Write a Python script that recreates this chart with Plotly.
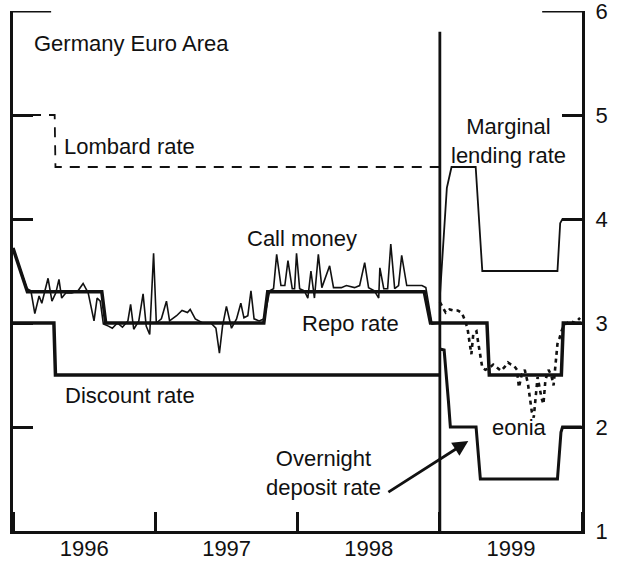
import plotly.graph_objects as go

# ---- Germany 1996-1998 ----
discount_dates = ["1996-01-01", "1996-04-15", "1996-04-19", "1998-12-31"]
discount_rate = [3.0, 3.0, 2.5, 2.5]

lombard_dates = ["1996-01-01", "1996-04-17", "1996-04-19", "1998-12-31"]
lombard_rate = [5.0, 5.0, 4.5, 4.5]

repo_de_dates = ["1996-01-01", "1996-02-07", "1996-08-16", "1996-08-26",
                 "1997-10-06", "1997-10-16", "1997-11-24", "1998-11-22",
                 "1998-12-08", "1998-12-31"]
repo_de_rate = [3.72, 3.30, 3.30, 3.00, 3.00, 3.30, 3.30, 3.30, 3.00, 3.00]

call_dates = [
    "1996-01-01", "1996-02-06", "1996-02-16", "1996-02-26", "1996-03-08",
    "1996-03-15", "1996-03-31", "1996-04-10", "1996-04-20", "1996-04-28",
    "1996-05-05", "1996-05-16", "1996-05-31", "1996-06-16", "1996-06-29",
    "1996-07-12", "1996-07-27", "1996-08-04", "1996-08-12", "1996-08-20",
    "1996-09-02", "1996-09-12", "1996-09-25", "1996-10-08", "1996-10-22",
    "1996-10-29", "1996-11-06", "1996-11-19", "1996-11-30", "1996-12-08",
    "1996-12-17", "1996-12-27", "1997-01-03", "1997-01-16", "1997-01-29",
    "1997-02-06", "1997-02-24", "1997-03-10", "1997-03-24", "1997-03-31",
    "1997-04-13", "1997-05-02", "1997-05-23", "1997-06-05", "1997-06-14",
    "1997-06-22", "1997-07-02", "1997-07-15", "1997-07-28", "1997-08-08",
    "1997-08-16", "1997-08-26", "1997-09-03", "1997-09-11", "1997-09-24",
    "1997-10-07", "1997-10-21", "1997-10-31", "1997-11-08", "1997-11-19",
    "1997-11-29", "1997-12-07", "1997-12-18", "1997-12-24", "1997-12-29",
    "1998-01-06", "1998-01-18", "1998-01-27", "1998-02-04", "1998-02-13",
    "1998-02-23", "1998-03-04", "1998-03-24", "1998-04-03", "1998-04-23",
    "1998-05-06", "1998-05-27", "1998-06-09", "1998-06-22", "1998-07-02",
    "1998-07-17", "1998-07-28", "1998-07-31", "1998-08-10", "1998-08-20",
    "1998-08-28", "1998-09-07", "1998-09-17", "1998-09-25", "1998-10-08",
    "1998-10-26", "1998-11-16", "1998-11-26", "1998-12-04", "1998-12-12",
    "1998-12-31"]
call_money = [
    3.72, 3.33, 3.31, 3.09, 3.26,
    3.19, 3.43, 3.21, 3.29, 3.42,
    3.24, 3.29, 3.29, 3.31, 3.38,
    3.29, 3.02, 3.24, 3.21, 2.99,
    2.97, 2.95, 3.00, 2.96, 3.02,
    3.18, 2.94, 3.02, 3.28, 2.97,
    2.89, 3.67, 3.00, 3.04, 3.21,
    3.02, 3.07, 3.12, 3.10, 3.13,
    3.04, 3.00, 3.00, 2.95, 2.71,
    2.97, 3.16, 2.95, 3.04, 3.19,
    3.05, 3.07, 3.31, 3.04, 3.02,
    3.04, 3.31, 3.33, 3.66, 3.36,
    3.36, 3.60, 3.33, 3.33, 3.67,
    3.33, 3.31, 3.24, 3.50, 3.24,
    3.66, 3.34, 3.55, 3.34, 3.34,
    3.36, 3.34, 3.36, 3.58, 3.34,
    3.31, 3.24, 3.53, 3.33, 3.33,
    3.76, 3.33, 3.36, 3.65, 3.36,
    3.36, 3.36, 3.34, 3.16, 2.99,
    3.00]

# ---- Euro area 1999 ----
repo_ea_dates = ["1999-01-01", "1999-05-02", "1999-05-08", "1999-11-09",
                 "1999-11-14", "1999-12-31"]
repo_ea_rate = [3.0, 3.0, 2.5, 2.5, 3.0, 3.0]

mlr_dates = ["1999-01-01", "1999-01-19", "1999-01-31", "1999-04-03",
             "1999-04-20", "1999-10-30", "1999-11-06", "1999-11-12",
             "1999-12-31"]
mlr_rate = [3.25, 4.30, 4.50, 4.50, 3.50, 3.50, 3.96, 4.00, 4.00]

odr_dates = ["1999-01-01", "1999-01-12", "1999-01-23", "1999-01-28",
             "1999-04-04", "1999-04-15", "1999-10-30", "1999-11-08",
             "1999-11-12", "1999-12-31"]
odr_rate = [2.75, 2.74, 2.25, 2.00, 2.00, 1.50, 1.50, 1.95, 2.00, 2.00]

eonia_dates = [
    "1999-01-01", "1999-01-09", "1999-01-16", "1999-01-26", "1999-02-05",
    "1999-02-16", "1999-02-26", "1999-03-05", "1999-03-13", "1999-03-18",
    "1999-03-23", "1999-03-28", "1999-04-05", "1999-04-10", "1999-04-15",
    "1999-04-20", "1999-04-28", "1999-05-08", "1999-05-18", "1999-05-28",
    "1999-06-07", "1999-06-17", "1999-06-25", "1999-07-03", "1999-07-10",
    "1999-07-18", "1999-07-23", "1999-07-30", "1999-08-07", "1999-08-15",
    "1999-08-20", "1999-08-25", "1999-08-30", "1999-09-04", "1999-09-09",
    "1999-09-14", "1999-09-19", "1999-09-24", "1999-09-29", "1999-10-07",
    "1999-10-14", "1999-10-20", "1999-10-25", "1999-10-30", "1999-11-04",
    "1999-11-09", "1999-11-16", "1999-12-02", "1999-12-14", "1999-12-27"]
eonia = [
    3.20, 3.14, 3.10, 3.13, 3.12,
    3.12, 3.10, 3.04, 2.95, 2.82,
    2.70, 2.90, 2.92, 2.80, 2.68,
    2.57, 2.55, 2.57, 2.60, 2.57,
    2.54, 2.58, 2.62, 2.60, 2.59,
    2.55, 2.38, 2.50, 2.55, 2.42,
    2.28, 2.15, 2.09, 2.30, 2.48,
    2.38, 2.28, 2.22, 2.45, 2.55,
    2.50, 2.40, 2.62, 2.80, 2.85,
    2.92, 2.98, 3.02, 3.00, 3.05]

rate_ticks = [1, 2, 3, 4, 5, 6]

FONT = "Liberation Sans, Arial, sans-serif"
BLACK = "#111111"
SIZE = 22

fig = go.Figure()


def add_line(x, y, width, dash="solid"):
    fig.add_trace(go.Scatter(x=x, y=y, mode="lines",
                             line=dict(color=BLACK, width=width, dash=dash),
                             showlegend=False, hoverinfo="skip"))


add_line(lombard_dates, lombard_rate, 1.8, "10px,8px")
add_line(discount_dates, discount_rate, 3.5)
add_line(call_dates, call_money, 1.6)
add_line(repo_de_dates, repo_de_rate, 3.5)
add_line(eonia_dates, eonia, 2.6, "4px,4px")
add_line(mlr_dates, mlr_rate, 1.8)
add_line(odr_dates, odr_rate, 3)
add_line(repo_ea_dates, repo_ea_rate, 3.5)

# vertical divider between Germany and the euro area
fig.add_shape(type="line", xref="x", yref="y", x0="1999-01-01", x1="1999-01-01",
              y0=1, y1=5.8, line=dict(color=BLACK, width=2.8))
# longer top ticks at 6
fig.add_shape(type="line", xref="paper", yref="y", x0=0, x1=0.067, y0=6, y1=6,
              line=dict(color=BLACK, width=3))
fig.add_shape(type="line", xref="paper", yref="y", x0=0.93, x1=1, y0=6, y1=6,
              line=dict(color=BLACK, width=3))


def label(text, x, y, anchor="left"):
    fig.add_annotation(text=text, x=x, y=y, xref="x", yref="y", showarrow=False,
                       xanchor=anchor, yanchor="middle", align="center",
                       font=dict(family=FONT, size=SIZE, color=BLACK))


label("Germany Euro Area", "1996-02-20", 5.69)
label("Lombard rate", "1996-05-05", 4.70)
label("Marginal<br>lending rate", "1999-06-27", 4.75, "center")
label("Call money", "1997-08-18", 3.81)
label("Repo rate", "1998-05-16", 3.0, "center")
label("Discount rate", "1996-05-08", 2.30)
label("eonia", "1999-07-25", 2.0, "center")
label("Overnight<br>deposit rate", "1998-03-09", 1.56, "center")

fig.add_annotation(x="1999-03-15", y=1.865, ax="1998-08-18", ay=1.365,
                   xref="x", yref="y", axref="x", ayref="y", text="",
                   showarrow=True, arrowhead=2, arrowsize=1.1, arrowwidth=2.8,
                   arrowcolor=BLACK)

fig.update_layout(
    width=621, height=563,
    margin=dict(l=13, r=39, t=11, b=32, autoexpand=False),
    paper_bgcolor="white", plot_bgcolor="white",
    font=dict(family=FONT, size=SIZE, color=BLACK),
    showlegend=False,
)
fig.update_xaxes(type="date", range=["1996-01-01", "2000-01-01"],
                 tickmode="linear", tick0="1996-01-01", dtick="M12",
                 ticklabelmode="period", tickformat="%Y", automargin=False,
                 ticks="inside", ticklen=19, tickwidth=3, tickcolor=BLACK,
                 showline=True, linewidth=3, linecolor=BLACK,
                 showgrid=False, zeroline=False, ticklabelstandoff=-4,
                 ticklabeloverflow="allow",
                 tickfont=dict(family=FONT, size=SIZE, color=BLACK))
fig.update_yaxes(range=[1, 6], side="right", tickvals=rate_ticks,
                 ticks="inside", ticklen=20, tickwidth=3, tickcolor=BLACK,
                 mirror="ticks", showline=True, linewidth=3, linecolor=BLACK,
                 showgrid=False, zeroline=False, ticklabelstandoff=6,
                 automargin=False, ticklabeloverflow="allow",
                 tickfont=dict(family=FONT, size=SIZE, color=BLACK))

fig.write_html("out.html", config={"displayModeBar": False},
               post_script="document.body.style.margin='0';"
                           "document.body.style.overflow='hidden';")
